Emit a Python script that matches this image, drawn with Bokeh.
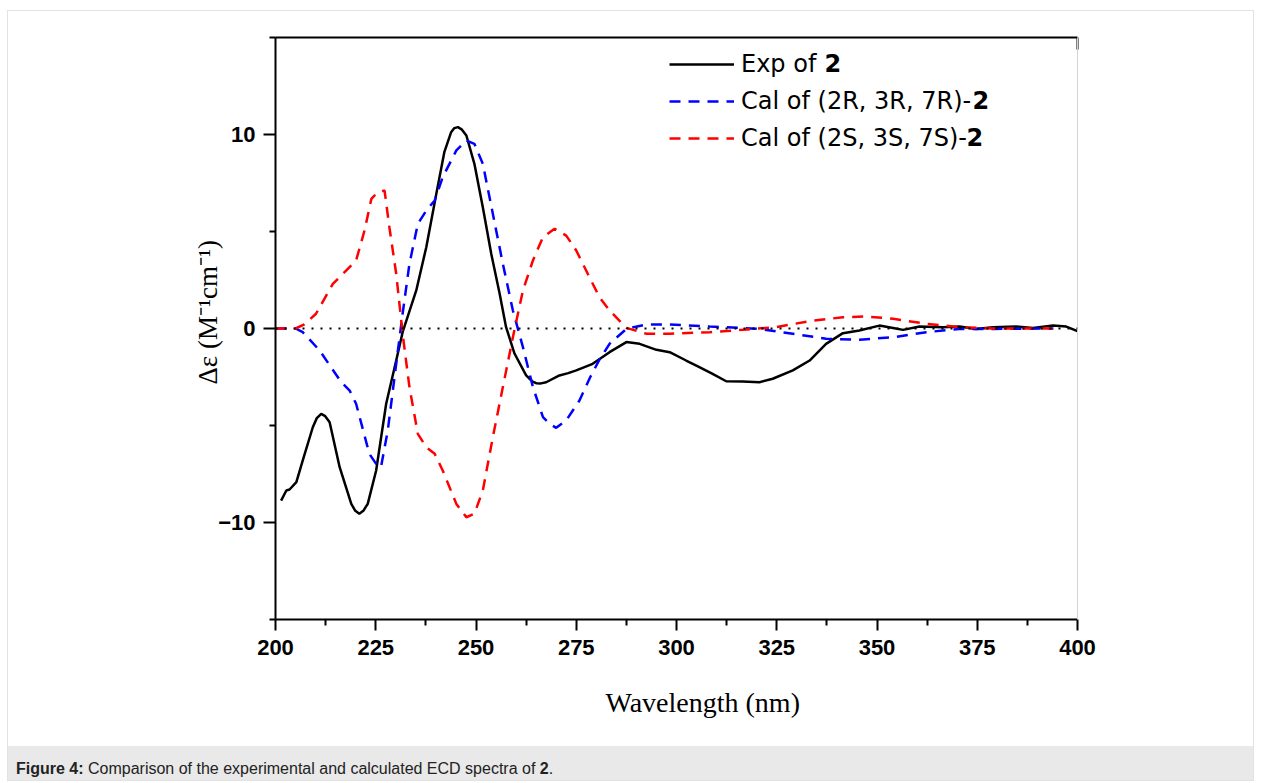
from bokeh.plotting import figure
from bokeh.models import (Range1d, FixedTicker, LinearAxis, Span, Label, Legend,
                          LegendItem, Div, Title)
from bokeh.layouts import column
from bokeh.embed import file_html
from bokeh.resources import INLINE

# ---------------- data ----------------
exp_wl = [201.4, 202.7, 203.5, 205.2, 206.8, 209.3, 210.3, 211.4, 212.4, 213.5,
          216.0, 218.9, 219.9, 220.9, 221.9, 223.0, 225.1, 227.6, 230.1, 231.7,
          235.1, 237.6, 240.1, 242.1, 243.8, 244.6, 245.5, 246.5, 247.6, 249.6,
          251.7, 253.8, 255.9, 257.5, 259.6, 262.5, 264.0, 265.0, 266.2, 267.5,
          270.8, 273.0, 275.0, 279.1, 283.3, 287.5, 290.8, 295.0, 298.3, 302.4,
          305.7, 309.0, 312.4, 316.5, 320.7, 324.0, 329.0, 333.2, 337.3, 341.5,
          345.6, 350.6, 354.0, 356.5, 360.6, 366.4, 370.6, 374.7, 378.9, 384.7,
          388.9, 393.9, 397.2, 400.0]
exp_de = [-8.87, -8.35, -8.30, -7.92, -6.80, -5.09, -4.62, -4.40, -4.52, -4.83,
          -7.15, -9.04, -9.40, -9.55, -9.40, -9.04, -7.32, -3.88, -1.65, -0.19,
          1.96, 4.19, 6.94, 9.09, 10.12, 10.33, 10.38, 10.25, 9.95, 8.49,
          6.25, 3.85, 1.79, 0.07, -1.29, -2.42, -2.72, -2.82, -2.83, -2.77,
          -2.42, -2.30, -2.16, -1.82, -1.22, -0.70, -0.79, -1.10, -1.22, -1.65,
          -1.99, -2.34, -2.72, -2.73, -2.77, -2.59, -2.16, -1.65, -0.79, -0.24,
          -0.10, 0.15, 0.03, -0.07, 0.10, 0.07, 0.10, -0.02, 0.07, 0.10,
          0.03, 0.15, 0.10, -0.14]

calR_wl = [200.0, 203.0, 205.0, 206.8, 211.0, 216.4, 218.5, 220.1, 223.4, 225.1,
           226.3, 228.0, 230.1, 231.7, 233.4, 235.5, 237.6, 239.7, 241.7, 245.1,
           247.6, 249.6, 251.7, 254.2, 256.7, 259.2, 261.7, 264.2, 266.7, 268.3,
           270.0, 272.5, 275.8, 278.5, 280.8, 283.3, 287.5, 292.5, 298.3, 308.3,
           320.7, 329.0, 337.3, 345.6, 354.0, 362.3, 370.6, 379.0, 394.0]
calR_de = [0.0, 0.0, 0.0, -0.19, -1.13, -2.77, -3.20, -3.88, -6.46, -6.98,
           -7.15, -5.26, -1.82, 0.76, 3.33, 5.40, 6.08, 6.60, 7.80, 9.18,
           9.69, 9.52, 8.49, 5.91, 3.33, 0.93, -0.96, -3.02, -4.57, -4.91,
           -5.12, -4.74, -3.71, -2.50, -1.60, -0.79, -0.02, 0.21, 0.21, 0.10,
           -0.02, -0.27, -0.53, -0.58, -0.45, -0.19, -0.02, -0.02, 0.0]

calS_wl = [200.0, 203.0, 205.0, 207.2, 210.1, 214.3, 216.4, 220.1, 222.2, 223.9,
           225.5, 227.2, 228.4, 230.1, 231.7, 233.4, 235.5, 237.6, 239.7, 241.7,
           245.1, 247.6, 249.6, 251.7, 254.2, 256.7, 259.2, 261.7, 264.2, 266.7,
           269.6, 272.5, 275.0, 278.3, 280.8, 283.3, 287.5, 292.5, 298.3, 308.3,
           316.5, 324.8, 333.2, 341.5, 347.3, 354.0, 362.3, 370.6, 379.0, 394.0]
calS_de = [0.0, 0.0, 0.0, 0.21, 0.76, 2.30, 2.73, 3.51, 5.05, 6.68,
           7.03, 7.11, 5.22, 2.82, -0.27, -3.02, -5.43, -6.12, -6.46, -7.32,
           -9.04, -9.73, -9.55, -8.35, -5.60, -3.02, -0.45, 1.96, 3.51, 4.71,
           5.14, 4.79, 4.02, 2.64, 1.61, 0.93, 0.03, -0.27, -0.27, -0.19,
           -0.07, 0.07, 0.38, 0.58, 0.62, 0.50, 0.24, 0.07, 0.0, 0.0]

x_major = [200, 225, 250, 275, 300, 325, 350, 375, 400]
x_minor = [212.5, 237.5, 262.5, 287.5, 312.5, 337.5, 362.5, 387.5]
y_major = [-10, 0, 10]
y_minor = [-15, -5, 5, 15]

x_title = "Wavelength (nm)"
y_title = "\u0394\u03b5 (M\u207b\u00b9cm\u207b\u00b9)"
legend_labels = ["Exp of ", "Cal of (2R, 3R, 7R)-", "Cal of (2S, 3S, 7S)-"]

# ---------------- figure ----------------
p = figure(frame_width=802, frame_height=582,
           x_range=Range1d(200, 400), y_range=Range1d(-15, 15),
           output_backend="svg", toolbar_location=None,
           min_border_left=267, min_border_right=176,
           min_border_top=26, min_border_bottom=127,
           background_fill_color="white", border_fill_color="white")
p.xgrid.visible = False
p.ygrid.visible = False
p.outline_line_color = None

tick_font = "Liberation Sans"
for ax in (p.xaxis[0], p.yaxis[0]):
    ax.axis_line_color = "black"
    ax.axis_line_width = 2
    ax.major_tick_line_color = "black"
    ax.major_tick_line_width = 2
    ax.minor_tick_line_color = "black"
    ax.minor_tick_line_width = 2
    ax.major_tick_in = 0
    ax.minor_tick_in = 0
    ax.major_label_text_font = tick_font
    ax.major_label_text_font_style = "bold"
    ax.major_label_text_font_size = "22px"
    ax.major_label_text_color = "black"

p.xaxis.ticker = FixedTicker(ticks=x_major, minor_ticks=x_minor)
p.xaxis.major_tick_out = 11
p.xaxis.minor_tick_out = 6
p.xaxis.major_label_standoff = 9

p.yaxis.ticker = FixedTicker(ticks=y_major, minor_ticks=y_minor)
p.yaxis.major_tick_out = 12
p.yaxis.minor_tick_out = 6
p.yaxis.major_label_standoff = 8

top_ax = LinearAxis(ticker=FixedTicker(ticks=[400]), axis_line_color="black",
                    axis_line_width=2, major_tick_in=12, major_tick_out=0,
                    major_tick_line_width=2, minor_tick_line_color=None,
                    major_label_text_alpha=0, major_label_text_font_size="1px",
                    major_label_standoff=0)
p.add_layout(top_ax, "above")
right_ax = LinearAxis(ticker=FixedTicker(ticks=[]), axis_line_color="#d4d4d4",
                      axis_line_width=1, major_tick_line_color=None,
                      minor_tick_line_color=None,
                      major_label_text_alpha=0, major_label_text_font_size="1px")
p.add_layout(right_ax, "right")

# axis titles as side titles (the reference places them off-centre)
p.add_layout(Title(text=x_title, text_font="Liberation Serif",
                   text_font_size="28px", text_font_style="normal",
                   text_color="black", align="left", offset=330,
                   standoff=54), "below")
p.add_layout(Title(text=y_title, text_font="Liberation Serif",
                   text_font_size="27px", text_font_style="normal",
                   text_color="black", align="left", offset=235,
                   standoff=-14), "left")

p.add_layout(Span(location=0, dimension="width", line_color="black",
                  line_width=2, line_dash="2 7"))

r_exp = p.line(exp_wl, exp_de, line_color="black", line_width=2.5)
r_R = p.line(calR_wl, calR_de, line_color="#0000ff", line_width=2.5, line_dash="11 8")
r_S = p.line(calS_wl, calS_de, line_color="#ff0000", line_width=2.5, line_dash="11 8")

legend = Legend(items=[LegendItem(label=legend_labels[0], renderers=[r_exp]),
                       LegendItem(label=legend_labels[1], renderers=[r_R]),
                       LegendItem(label=legend_labels[2], renderers=[r_S])],
                location=(394, 466), orientation="vertical",
                border_line_color=None, background_fill_alpha=0,
                padding=0, margin=0, spacing=7,
                glyph_width=65, glyph_height=30, label_height=30,
                label_standoff=7, label_text_font="DejaVu Sans",
                label_text_font_size="24px", label_text_color="black")
p.add_layout(legend)

bold_pos = [(336.9, 13.68), (373.8, 11.76), (372.3, 9.89)]
for bx, by in bold_pos:
    p.add_layout(Label(x=bx, y=by, text="2", text_font="DejaVu Sans",
                       text_font_style="bold", text_font_size="24px",
                       text_baseline="middle", text_color="black"))

caption = Div(text='<div style="padding:14px 0 0 8px;font-family:Arial,\'Liberation Sans\',sans-serif;'
                   'font-size:16px;line-height:18px;color:#222;"><b>Figure 4:</b> Comparison of the experimental '
                   'and calculated ECD spectra of <b>2</b>.</div>',
              width=1245, height=34, margin=0,
              styles={"background-color": "#e9e9e9"})

layout = column(p, caption, spacing=0,
                styles={"border": "1px solid #e2e2e2", "margin-left": "7px",
                        "margin-top": "10px"})

open("out.html", "w").write(file_html(layout, INLINE))
